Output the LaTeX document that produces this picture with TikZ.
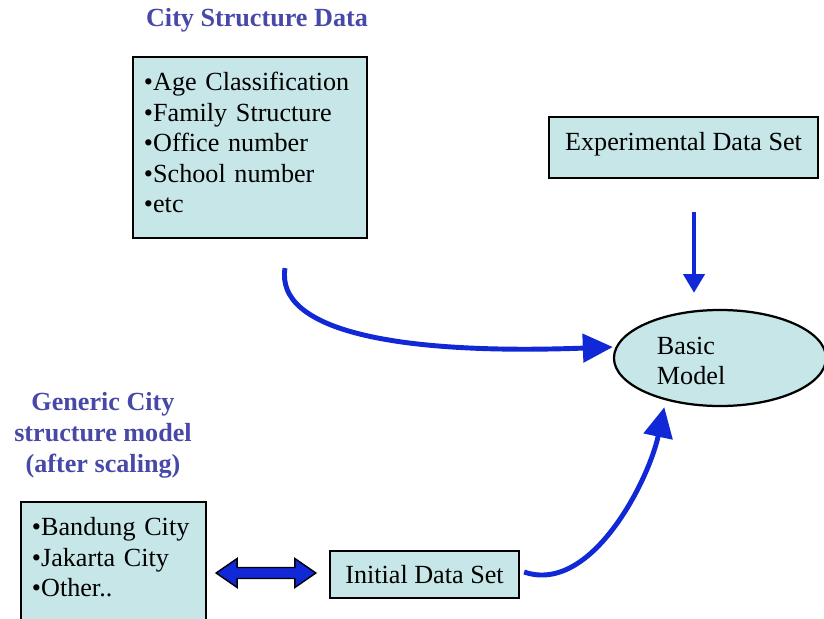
\documentclass[tikz,border=0pt]{standalone}
\usepackage{fontspec}
\setmainfont{Liberation Serif}
\usetikzlibrary{positioning,calc,arrows.meta,shapes.geometric}
\definecolor{boxfill}{RGB}{199,230,232}
\definecolor{titleblue}{RGB}{72,72,168}
\definecolor{flowblue}{RGB}{16,40,214}

\tikzset{
  databox/.style={draw=black, line width=1.6pt, fill=boxfill, inner xsep=0.275cm,
    font=\fontsize{18.6}{21.7}\selectfont},
  heading/.style={text=titleblue, align=center, font=\fontsize{18.6}{22}\selectfont\bfseries},
  flow/.style={flowblue, line width=3.5pt},
  dblarrow/.style={draw=black, line width=1pt, fill=flowblue, line join=miter}
}

\begin{document}
\begin{tikzpicture}[x=0.025cm, y=-0.025cm]
				\useasboundingbox (0,0) rectangle (824,619);

				%Nodes
				\node[heading] (citytitle) at (257,20) {City Structure Data};
				\node[databox, text width=5.3cm, minimum height=4.525cm, align=left, text depth=3.3cm] (citydata) at (250,147.5)
					{•Age Classification\\•Family Structure\\•Office number\\•School number\\•etc};
				\node[databox, minimum width=6.725cm, minimum height=1.525cm, text depth=0.32cm] (expdata) at (683.5,147.5)
					{Experimental Data Set};
				\node[databox, ellipse, minimum width=5.3cm, minimum height=2.4cm, text width=3.15cm, align=left, inner sep=0pt, text depth=0.61cm] (basic) at (720,358)
					{Basic\\Model};
				\node[heading] (gentitle) at (103,435) {Generic City\\structure model\\(after scaling)};
				\node[databox, text width=4.075cm, minimum height=3cm, align=left, text depth=1.775cm] (generic) at (113.5,562)
					{•Bandung City\\•Jakarta City\\•Other..};
				\node[databox, minimum width=4.725cm, minimum height=1.175cm] (initial) at (424.5,574.5)
					{Initial Data Set};

				%Lines
				\draw[flow, -{Triangle[length=0.47cm, width=0.52cm]}, shorten <=0.825cm, shorten >=0.4cm]
					([xshift=0.2625cm]expdata.south) -- ([xshift=0.2625cm]expdata.south |- basic.north);
				\draw[flow, -{Triangle[length=0.75cm, width=0.7cm]}]
					($(citydata.south)+(35,29)$) .. controls +(-10,63) and +(-215,8) .. ([yshift=0.275cm]basic.west);
				\draw[flow, -{Triangle[length=0.75cm, width=0.72cm]}, shorten >=0.175cm]
					($(initial.east)+(4,-2.5)$) .. controls +(67,23) and +(-17,80) .. (basic.218);

				\coordinate (dl) at ($(generic.east |- initial.west)+(9,-1.5)$);
				\coordinate (dr) at ($(initial.west)+(-13,-1.5)$);
				\draw[dblarrow] (dl) -- ++(21,-14.5) -- ++(0,9) -- ($(dr)+(-21,-5.5)$) -- ++(0,-9) -- (dr)
					-- ++(-21,14.5) -- ++(0,-9) -- ($(dl)+(21,5.5)$) -- ++(0,9) -- cycle;

			\end{tikzpicture}
\end{document}
